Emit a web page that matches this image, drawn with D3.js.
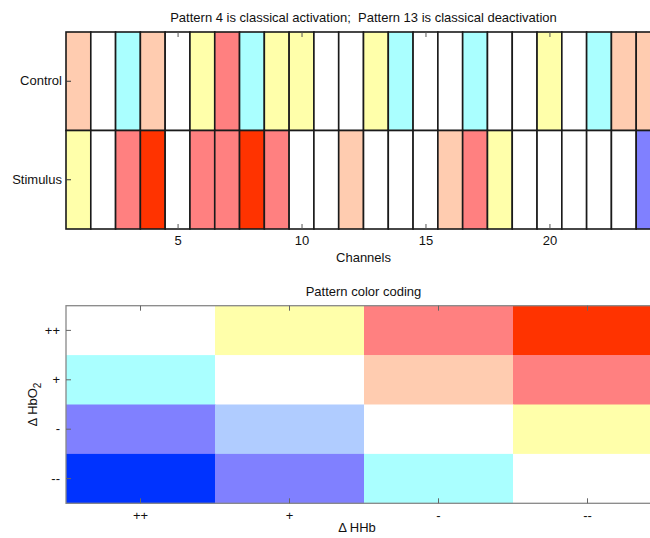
<!DOCTYPE html>
<html><head><meta charset="utf-8">
<script src="https://cdn.jsdelivr.net/npm/d3@7"></script>
<style>
body{margin:0;background:#fff;}
svg{display:block;font-family:"Liberation Sans",Arial,Helvetica,sans-serif;}
text{white-space:pre;}
</style></head>
<body><svg id="c" width="650" height="538"></svg>
<script>
// ---- data ----
const channels = d3.range(1, 25);
const conditions = ["Control", "Stimulus"];
// pattern number (1..16) per channel, row-major over (dHbO2, dHHb)
const controlPatterns  = [7,1,5,7,6,2,3,5,2,12,11,16,2,15,1,6,5,11,16,12,1,15,7,7];
const stimulusPatterns = [2,1,8,4,6,3,8,4,3,1,6,7,11,16,1,7,3,12,1,6,11,16,1,14];
const levels = ["++", "+", "-", "--"];
const channelTicks = [5, 10, 15, 20];
const patternColors = [
  "#ffffff","#ffffaa","#ff8080","#ff3300",
  "#aaffff","#ffffff","#ffccb0","#ff8080",
  "#8080ff","#b0ccff","#ffffff","#ffffaa",
  "#0033ff","#8080ff","#aaffff","#ffffff"
];
const titleTop = "Pattern 4 is classical activation;  Pattern 13 is classical deactivation";
const titleBottom = "Pattern color coding";

const svg = d3.select("#c");
const font = 13;

// ---- top chart ----
const x1 = d3.scaleLinear().domain([0.5, 24.5]).range([66, 661]);
const y1 = d3.scaleBand().domain(conditions).range([32, 229]);
const rows = [controlPatterns, stimulusPatterns];
const cells = [];
conditions.forEach((c, i) => channels.forEach((ch, j) => cells.push({c, ch, p: rows[i][j]})));
const g1 = svg.append("g");
g1.selectAll("rect.cell").data(cells).enter().append("rect")
  .attr("x", d => x1(d.ch - 0.5)).attr("width", d => x1(d.ch + 0.5) - x1(d.ch - 0.5))
  .attr("y", d => y1(d.c)).attr("height", y1.bandwidth())
  .attr("fill", d => patternColors[d.p - 1])
  .attr("stroke", "#1a1a1a").attr("stroke-width", 1.6);

function styleAxis(g, col) {
  g.select(".domain").remove();
  g.selectAll(".tick line").attr("stroke", col || "#555");
  g.selectAll(".tick text").attr("font-size", font).attr("fill", "#111")
    .attr("font-family", '"Liberation Sans",Arial,sans-serif');
}
const xb1 = svg.append("g").attr("transform", "translate(0,229)")
  .call(d3.axisBottom(x1).tickValues(channelTicks).tickFormat(d3.format("d")).tickSize(-5).tickPadding(7));
styleAxis(xb1);
const xt1 = svg.append("g").attr("transform", "translate(0,32)")
  .call(d3.axisTop(x1).tickValues(channelTicks).tickFormat("").tickSize(-5));
styleAxis(xt1);
const yl1 = svg.append("g").attr("transform", "translate(66,0)")
  .call(d3.axisLeft(y1).tickSize(-5).tickPadding(4));
styleAxis(yl1, "#333");

svg.append("text").attr("x", 363.5).attr("y", 22).attr("text-anchor", "middle")
  .attr("font-size", font).attr("fill", "#111").text(titleTop);
svg.append("text").attr("x", 363.5).attr("y", 262).attr("text-anchor", "middle")
  .attr("font-size", font).attr("fill", "#111").text("Channels");

// ---- bottom chart ----
const x2 = d3.scaleBand().domain(levels).range([66, 662]);
const y2 = d3.scaleBand().domain(levels).range([305.7, 503.3]);
const pcells = [];
levels.forEach((hb, i) => levels.forEach((hh, j) => pcells.push({hb, hh, p: i * 4 + j + 1})));
svg.append("g").selectAll("rect").data(pcells).enter().append("rect")
  .attr("x", d => x2(d.hh)).attr("width", x2.bandwidth() + 0.5)
  .attr("y", d => y2(d.hb)).attr("height", y2.bandwidth() + 0.5)
  .attr("fill", d => patternColors[d.p - 1]);
svg.append("rect").attr("x", 66).attr("y", 305.7).attr("width", 596).attr("height", 197.6)
  .attr("fill", "none").attr("stroke", "#888").attr("stroke-width", 1.3);

const xb2 = svg.append("g").attr("transform", "translate(0,503.3)")
  .call(d3.axisBottom(x2).tickSize(-5).tickPadding(7));
styleAxis(xb2, "#666");
const xt2 = svg.append("g").attr("transform", "translate(0,305.7)")
  .call(d3.axisTop(x2).tickFormat("").tickSize(-5));
styleAxis(xt2, "#666");
const yl2 = svg.append("g").attr("transform", "translate(66,0)")
  .call(d3.axisLeft(y2).tickSize(-5).tickPadding(6));
styleAxis(yl2, "#666");

svg.append("text").attr("x", 363.5).attr("y", 296).attr("text-anchor", "middle")
  .attr("font-size", font).attr("fill", "#111").text(titleBottom);
const hhb = svg.append("text").attr("x", 357).attr("y", 532).attr("text-anchor", "middle")
  .attr("font-size", font).attr("fill", "#111");
hhb.append("tspan").text("\u0394 HHb");
const hbo = svg.append("text").attr("transform", "translate(37,404.5) rotate(-90)")
  .attr("text-anchor", "middle").attr("font-size", font).attr("fill", "#111");
hbo.append("tspan").text("\u0394 HbO");
hbo.append("tspan").attr("font-size", 10).attr("dy", 4).text("2");
</script></body></html>
